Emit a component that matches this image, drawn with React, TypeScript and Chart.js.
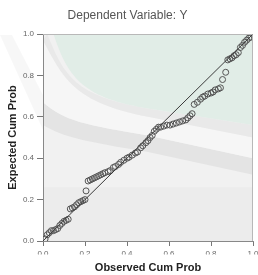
import React, { useEffect, useRef } from "react";
import { Chart, registerables } from "chart.js";

Chart.register(...registerables);

const titleText = "Dependent Variable: Y";
const xAxisTitle = "Observed Cum Prob";
const yAxisTitle = "Expected Cum Prob";

const observedCumProb = [
  0.01, 0.02, 0.03, 0.04, 0.05, 0.06, 0.07, 0.08, 0.09, 0.10,
  0.11, 0.12, 0.13, 0.14, 0.15, 0.16, 0.17, 0.18, 0.19, 0.20,
  0.205,
  0.215, 0.225, 0.235, 0.245, 0.255, 0.265, 0.275, 0.285, 0.295, 0.31,
  0.32, 0.335, 0.345, 0.36, 0.37, 0.385, 0.40, 0.41, 0.425, 0.44,
  0.45, 0.465, 0.475, 0.49, 0.50, 0.51, 0.52, 0.53, 0.54, 0.55,
  0.56, 0.575, 0.59, 0.605, 0.62, 0.635, 0.65, 0.665, 0.68, 0.69,
  0.70, 0.71,
  0.72, 0.735, 0.75, 0.76, 0.77, 0.785, 0.80, 0.81, 0.82, 0.835,
  0.845, 0.855, 0.87,
  0.88, 0.89, 0.90, 0.91, 0.92, 0.93, 0.94, 0.95, 0.96, 0.97,
  0.98, 0.99,
];

const expectedCumProb = [
  0.01, 0.03, 0.04, 0.05, 0.05, 0.055, 0.06, 0.075, 0.085, 0.095,
  0.10, 0.105, 0.155, 0.16, 0.165, 0.175, 0.185, 0.19, 0.195, 0.20,
  0.242,
  0.29, 0.295, 0.30, 0.305, 0.31, 0.315, 0.32, 0.325, 0.33, 0.335,
  0.34, 0.355, 0.36, 0.37, 0.38, 0.39, 0.40, 0.405, 0.415, 0.425,
  0.43, 0.45, 0.46, 0.475, 0.485, 0.50, 0.51, 0.53, 0.54, 0.55,
  0.55, 0.555, 0.56, 0.56, 0.565, 0.57, 0.575, 0.58, 0.585, 0.595,
  0.605, 0.615,
  0.66, 0.67, 0.685, 0.695, 0.70, 0.71, 0.715, 0.72, 0.73, 0.735,
  0.74, 0.78, 0.815,
  0.875, 0.88, 0.885, 0.895, 0.90, 0.91, 0.935, 0.945, 0.96, 0.97,
  0.98, 0.985,
];

const referenceLine = [0, 1];
const tickStep = 0.2;

const backgroundPlugin = {
  id: "spssBackground",
  beforeDraw(chart: any) {
    const { ctx, chartArea: a, width, height } = chart;
    ctx.save();
    ctx.fillStyle = "#ffffff";
    ctx.fillRect(0, 0, width, height);
    // faint swoosh outside the plot
    ctx.fillStyle = "rgba(0,0,0,0.03)";
    ctx.beginPath();
    ctx.moveTo(0, 35);
    ctx.lineTo(12, 35);
    ctx.lineTo(43, 95);
    ctx.lineTo(43, 130);
    ctx.closePath();
    ctx.fill();

    ctx.beginPath();
    ctx.rect(a.left, a.top, a.right - a.left, a.bottom - a.top);
    ctx.clip();
    const w = a.right - a.left;
    const h = a.bottom - a.top;
    const X = (f: number) => a.left + f * w;
    const Y = (f: number) => a.top + f * h;
    ctx.fillStyle = "#f1f1f1";
    ctx.fillRect(a.left, a.top, w, h);
    // lower band
    ctx.fillStyle = "#ececec";
    ctx.fillRect(a.left, Y(0.74), w, h);
    // grey swoosh band
    ctx.fillStyle = "#e4e4e4";
    ctx.beginPath();
    ctx.moveTo(X(0), Y(0.33));
    ctx.bezierCurveTo(X(0.1), Y(0.42), X(0.2), Y(0.44), X(0.5), Y(0.49));
    ctx.lineTo(X(1.0), Y(0.6));
    ctx.lineTo(X(1.0), Y(0.68));
    ctx.lineTo(X(0.5), Y(0.57));
    ctx.bezierCurveTo(X(0.2), Y(0.52), X(0.1), Y(0.5), X(0), Y(0.44));
    ctx.closePath();
    ctx.fill();
    // light band
    ctx.fillStyle = "#f6f6f6";
    ctx.beginPath();
    ctx.moveTo(X(0), Y(0.03));
    ctx.bezierCurveTo(X(0.1), Y(0.22), X(0.15), Y(0.33), X(0.5), Y(0.4));
    ctx.lineTo(X(1.0), Y(0.5));
    ctx.lineTo(X(1.0), Y(0.6));
    ctx.lineTo(X(0.5), Y(0.49));
    ctx.bezierCurveTo(X(0.2), Y(0.44), X(0.1), Y(0.42), X(0), Y(0.33));
    ctx.closePath();
    ctx.fill();
    // darker band just below green
    ctx.fillStyle = "#e9e9e9";
    ctx.beginPath();
    ctx.moveTo(X(0.02), Y(0));
    ctx.bezierCurveTo(X(0.1), Y(0.2), X(0.15), Y(0.3), X(0.5), Y(0.36));
    ctx.lineTo(X(1.0), Y(0.44));
    ctx.lineTo(X(1.0), Y(0.5));
    ctx.lineTo(X(0.5), Y(0.4));
    ctx.bezierCurveTo(X(0.15), Y(0.33), X(0.1), Y(0.22), X(0), Y(0.03));
    ctx.closePath();
    ctx.fill();
    // green region
    ctx.fillStyle = "#e1ede7";
    ctx.beginPath();
    ctx.moveTo(X(0.05), Y(0));
    ctx.lineTo(X(1.0), Y(0));
    ctx.lineTo(X(1.0), Y(0.44));
    ctx.lineTo(X(0.5), Y(0.36));
    ctx.bezierCurveTo(X(0.2), Y(0.31), X(0.12), Y(0.22), X(0.05), Y(0));
    ctx.closePath();
    ctx.fill();
    ctx.restore();
  },
  afterDraw(chart: any) {
    const { ctx, chartArea: a } = chart;
    ctx.save();
    ctx.strokeStyle = "#b8b8b8";
    ctx.lineWidth = 1;
    ctx.beginPath();
    ctx.moveTo(a.left, a.top + 0.5);
    ctx.lineTo(a.right - 0.5, a.top + 0.5);
    ctx.lineTo(a.right - 0.5, a.bottom);
    ctx.stroke();
    // clip tick labels like the original export
    ctx.fillStyle = "#ffffff";
    ctx.fillRect(a.left - 15, a.bottom + 13.5, a.right - a.left + 30, 5);
    ctx.restore();
  },
};

export default function App() {
  const ref = useRef<HTMLCanvasElement | null>(null);
  useEffect(() => {
    document.body.style.margin = "0";
    document.body.style.overflow = "hidden";
    const canvas = ref.current!;
    const points = observedCumProb.map((x, i) => ({ x, y: expectedCumProb[i] }));
    const chart = new Chart(canvas, {
      type: "scatter",
      data: {
        datasets: [
          {
            type: "line",
            data: referenceLine.map((v) => ({ x: v, y: v })),
            borderColor: "#3a3a3a",
            borderWidth: 1,
            pointRadius: 0,
            fill: false,
          } as any,
          {
            data: points,
            pointRadius: 3,
            pointBorderColor: "#555555",
            pointBackgroundColor: "rgba(0,0,0,0)",
            pointBorderWidth: 1,
          },
        ],
      },
      options: {
        animation: false,
        responsive: false,
        devicePixelRatio: 1,
        layout: { padding: { left: 0, right: 3, top: 0, bottom: 0 } },
        plugins: {
          legend: { display: false },
          tooltip: { enabled: false },
          title: {
            display: true,
            text: titleText,
            color: "#555555",
            font: { family: "'Liberation Sans', Arial, sans-serif", size: 12, weight: "normal" },
            padding: { top: 8, bottom: 11.6 },
          },
        },
        scales: {
          x: {
            type: "linear",
            min: 0,
            max: 1,
            afterFit(scale: any) {
              scale.height = 34;
              scale.paddingRight = 0;
            },
            ticks: {
              stepSize: tickStep,
              callback: (v: any) => Number(v).toFixed(1),
              color: "#666666",
              font: { family: "'Liberation Sans', Arial, sans-serif", size: 8 },
              padding: 3,
              maxRotation: 0,
            },
            grid: { drawOnChartArea: false, drawTicks: true, tickLength: 5, color: "#777777" },
            border: { color: "#888888" },
            title: {
              display: true,
              text: xAxisTitle,
              color: "#222222",
              font: { family: "'Liberation Sans', Arial, sans-serif", size: 11, weight: "bold" },
              padding: { top: 0, bottom: 0 },
            },
          },
          y: {
            type: "linear",
            min: 0,
            max: 1,
            afterFit(scale: any) {
              scale.width = 43;
            },
            ticks: {
              stepSize: tickStep,
              callback: (v: any) => Number(v).toFixed(1),
              color: "#666666",
              font: { family: "'Liberation Sans', Arial, sans-serif", size: 8 },
              padding: 3,
            },
            grid: { drawOnChartArea: false, drawTicks: true, tickLength: 6, color: "#777777" },
            border: { color: "#888888" },
            title: {
              display: true,
              text: yAxisTitle,
              color: "#222222",
              font: { family: "'Liberation Sans', Arial, sans-serif", size: 11, weight: "bold" },
              padding: { top: 6.4, bottom: 0 },
            },
          },
        },
      },
      plugins: [backgroundPlugin],
    });
    return () => chart.destroy();
  }, []);
  return (
    <div style={{ width: 258, height: 275 }}>
      <canvas ref={ref} width={258} height={275} style={{ display: "block" }} />
    </div>
  );
}
